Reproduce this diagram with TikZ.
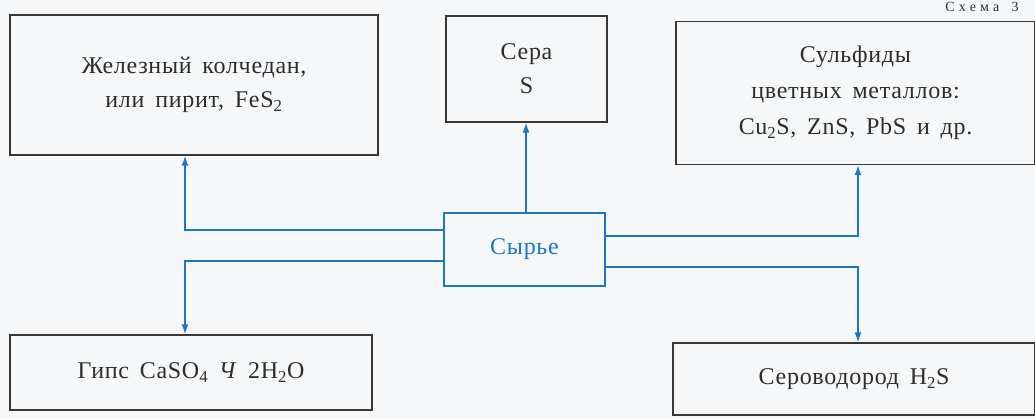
\documentclass[tikz,border=0pt]{standalone}
\usepackage{fontspec}
\setmainfont{Liberation Serif}[LetterSpace=3, WordSpace=1.6]
\usetikzlibrary{arrows.meta,positioning}
\definecolor{linkblue}{RGB}{28,118,196}
\definecolor{boxline}{RGB}{55,55,55}
\definecolor{paper}{RGB}{245,247,249}
\definecolor{inkgray}{RGB}{45,45,45}

\begin{document}
\begin{tikzpicture}[
    x=1pt, y=-1pt,
    src/.style={rectangle, draw=boxline, line width=1.4pt, align=center, text=inkgray,
                font=\fontsize{24}{34}\selectfont, inner sep=0pt},
    rawbox/.style={src, draw=linkblue, text=linkblue},
    arr/.style={-{Latex[length=10pt,width=7pt]}, line width=1.4pt, linkblue}
]
\fill[paper] (0,0) rectangle (1035,419);
\useasboundingbox (0,0) rectangle (1035,419);
\clip (0,0) rectangle (1035,419);

\node[anchor=base, text=inkgray, font=\fontsize{14}{16}\selectfont\addfontfeature{LetterSpace=30}] (title) at (982,12) {Схема 3};

\node[src, minimum width=368pt, minimum height=140pt] (pyrite) at (194,85)
    {Железный колчедан,\\или пирит, FeS\textsubscript{2}};
\node[src, minimum width=161pt, minimum height=106pt] (sulfur) at (526.5,69) {Сера\\S};
\node[src, minimum width=359pt, minimum height=143pt, font=\fontsize{24}{36}\selectfont] (sulfides) at (855.5,93)
    {Сульфиды\\цветных металлов:\\Cu\textsubscript{2}S, ZnS, PbS и др.};
\node[rawbox, minimum width=161pt, minimum height=73pt] (raw) at (524.5,249.5) {Сырье};
\node[src, minimum width=362pt, minimum height=75pt] (gypsum) at (191,372.5)
    {Гипс CaSO\textsubscript{4} \textit{Ч} 2H\textsubscript{2}O};
\node[src, minimum width=362pt, minimum height=72pt] (hsulfide) at (854,379) {Сероводород H\textsubscript{2}S};

\draw[arr] ([yshift=19.5pt]raw.west) -| ([xshift=-9pt]pyrite.south);
\draw[arr] ([yshift=-11.5pt]raw.west) -| ([xshift=-6pt]gypsum.north);
\draw[arr] ([xshift=1.5pt]raw.north) -- ([xshift=-0.5pt]sulfur.south);
\draw[arr] ([yshift=13.5pt]raw.east) -| ([xshift=2.5pt]sulfides.south);
\draw[arr] ([yshift=-17.5pt]raw.east) -| ([xshift=4pt]hsulfide.north);
\end{tikzpicture}
\end{document}
